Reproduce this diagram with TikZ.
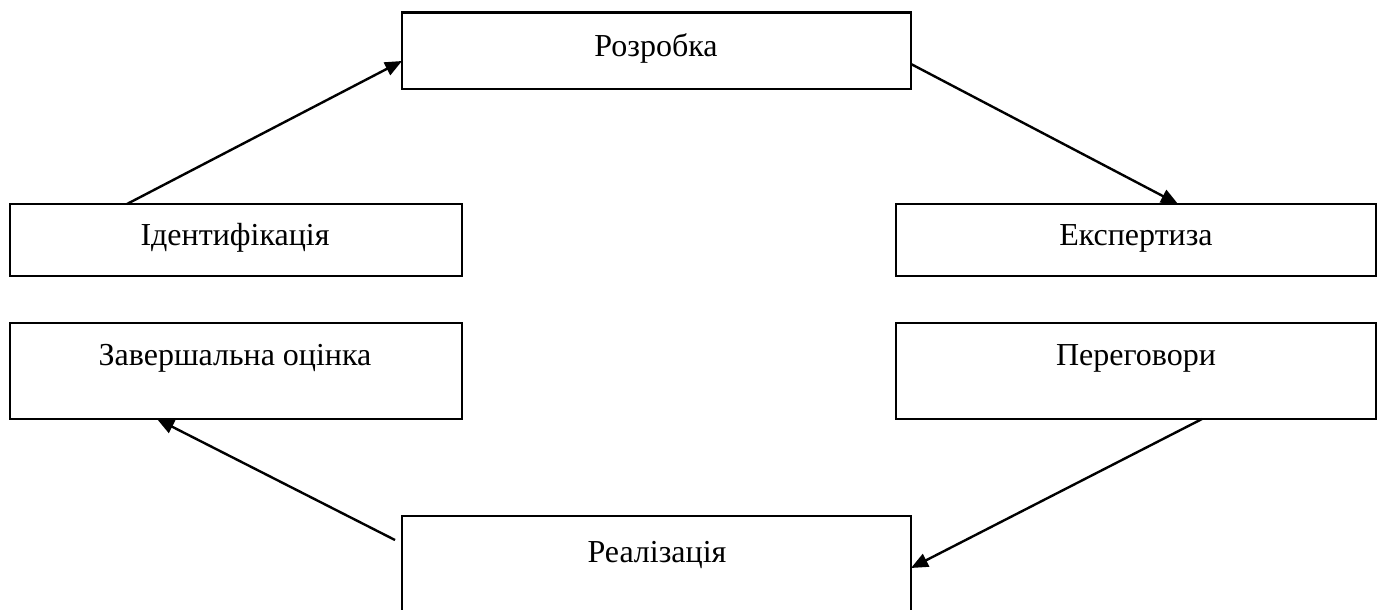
\documentclass[tikz,border=0pt]{standalone}
\usepackage{fontspec}
\setmainfont{Liberation Serif}
\usetikzlibrary{arrows.meta}
\begin{document}
\begin{tikzpicture}[x=1pt,y=-1pt,
  box/.style={draw=black, line width=2.2pt, rectangle, inner sep=0pt, outer sep=0pt, fill=white},
  lbl/.style={anchor=base, inner sep=0pt, font=\fontsize{32}{38}\selectfont},
  arr/.style={line width=2.4pt, -{Triangle[length=17pt,width=14pt]}}]
\useasboundingbox[fill=white] (0,0) rectangle (1382,610);
% boxes
\node[box, minimum width=509pt, minimum height=76.5pt] (rozr) at (656.5,50.75) {};
\node[box, minimum width=452pt, minimum height=72pt] (ident) at (236,240) {};
\node[box, minimum width=480pt, minimum height=72pt] (eksp) at (1136,240) {};
\node[box, minimum width=452pt, minimum height=96pt] (zav) at (236,371) {};
\node[box, minimum width=480pt, minimum height=96pt] (pereh) at (1136,371) {};
\node[box, minimum width=509pt, minimum height=104pt] (real) at (656.5,568) {};
% labels
\node[lbl] (trozr) at (656,57) {Розробка};
\node[lbl] (tident) at (235,245) {Ідентифікація};
\node[lbl] (teksp) at (1136,245) {Експертиза};
\node[lbl] (tzav) at (235,365) {Завершальна оцінка};
\node[lbl] (tpereh) at (1136,365) {Переговори};
\node[lbl] (treal) at (657,562) {Реалізація};
% connectors
\coordinate (s4) at (395,540);
\draw[arr] ([xshift=117pt]ident.north west) -- ([yshift=-48.5pt]rozr.north west);
\draw[arr] ([yshift=-51.5pt]rozr.north east) -- ([xshift=282pt]eksp.north west);
\draw[arr] ([xshift=306pt]pereh.south west) -- ([yshift=-52pt]real.north east);
\draw[arr] (s4) -- ([xshift=147pt]zav.south west);
\end{tikzpicture}
\end{document}
